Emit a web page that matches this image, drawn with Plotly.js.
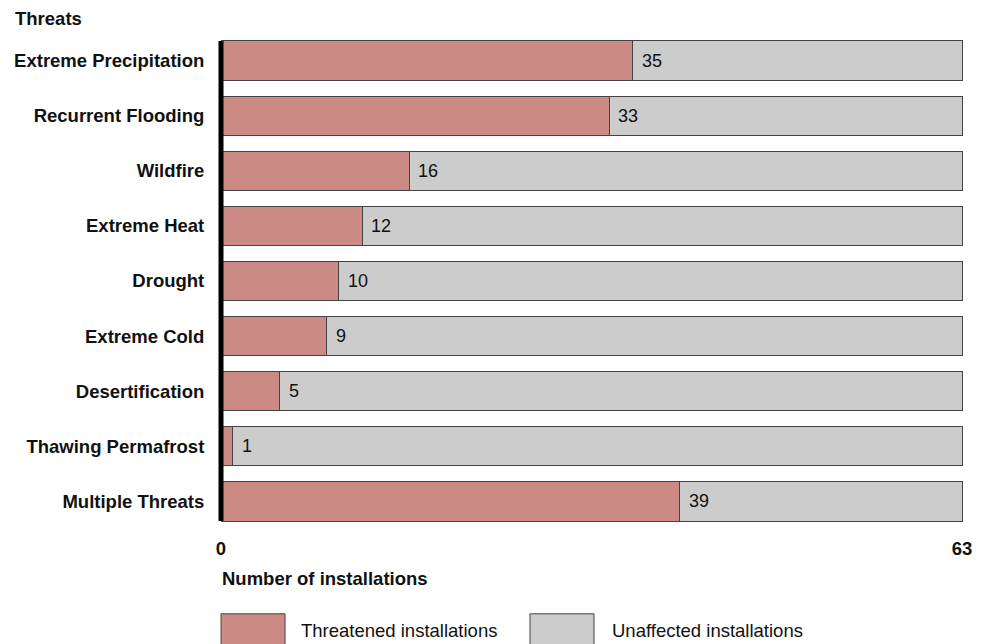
<!DOCTYPE html>
<html>
<head>
<meta charset="utf-8">
<script src="https://cdn.plot.ly/plotly-3.0.1.min.js"></script>
<style>html,body{margin:0;padding:0;background:#fff;}#chart{width:991px;height:644px;}</style>
</head>
<body>
<div id="chart"></div>
<script>
const categories = ["Extreme Precipitation","Recurrent Flooding","Wildfire","Extreme Heat","Drought","Extreme Cold","Desertification","Thawing Permafrost","Multiple Threats"];
const threatened = [35,33,16,12,10,9,5,1,39];
const totalInstallations = 63;
const unaffected = threatened.map(v => totalInstallations - v);
const xTickVals = [0, 63];
const xTickText = ["0", "63"];
const legendNames = ["Threatened installations", "Unaffected installations"];

const FONT = "Liberation Sans, Arial, Helvetica, sans-serif";
const FS = 18.5;
const RED = "#cc8a85";
const GRAY = "#cccccc";
const EDGE = "#444444";

const traces = [
  {type:'bar', orientation:'h', y:categories, x:threatened, name:legendNames[0],
   marker:{color:RED, line:{color:EDGE, width:1}}, hoverinfo:'x+y'},
  {type:'bar', orientation:'h', y:categories, x:unaffected, name:legendNames[1],
   marker:{color:GRAY, line:{color:EDGE, width:1}}, hoverinfo:'x+y'}
];

const annotations = categories.map((c,i)=>({
  x:threatened[i], y:c, xref:'x', yref:'y', text:String(threatened[i]),
  xanchor:'left', yanchor:'middle', xshift:7, showarrow:false,
  font:{family:FONT, size:18, color:'#111'}
}));
annotations.push({x:-0.2803, y:1.03, xref:'paper', yref:'paper', text:'<b>Threats</b>', xanchor:'left', yanchor:'middle', showarrow:false, font:{family:FONT, size:FS, color:'#111'}});
annotations.push({x:-0.001, y:-0.099, xref:'paper', yref:'paper', text:'<b>Number of installations</b>', xanchor:'left', yanchor:'middle', showarrow:false, font:{family:FONT, size:FS, color:'#111'}});
annotations.push({x:0.1045, y:-0.204, xref:'paper', yref:'paper', text:legendNames[0], xanchor:'left', yanchor:'middle', showarrow:false, font:{family:FONT, size:FS, color:'#111'}});
annotations.push({x:0.5236, y:-0.204, xref:'paper', yref:'paper', text:legendNames[1], xanchor:'left', yanchor:'middle', showarrow:false, font:{family:FONT, size:FS, color:'#111'}});

const halfBar = 0.71/2;
const shapes = [
  {type:'rect', xref:'paper', yref:'paper', x0:0, x1:0.0863, y0:-0.171, y1:-0.26, fillcolor:RED, line:{color:EDGE, width:1}},
  {type:'rect', xref:'paper', yref:'paper', x0:0.4164, x1:0.5027, y0:-0.171, y1:-0.26, fillcolor:GRAY, line:{color:EDGE, width:1}},
  {type:'line', xref:'paper', yref:'y', x0:0, x1:0, y0:-halfBar, y1:categories.length-1+halfBar, line:{color:'#000', width:5}, layer:'above'}
];

const layout = {
  width:991, height:644,
  margin:{l:221, r:28, t:33, b:115, pad:0},
  barmode:'stack', bargap:0.29,
  showlegend:false,
  paper_bgcolor:'#fff', plot_bgcolor:'#fff',
  font:{family:FONT, color:'#111'},
  xaxis:{range:[0,63.08], tickvals:xTickVals, ticktext:xTickText, showgrid:false, zeroline:false, showline:false,
         ticks:'outside', ticklen:3, tickcolor:'rgba(0,0,0,0)', tickfont:{family:FONT, size:FS, color:'#111', weight:'bold'}, fixedrange:true},
  yaxis:{autorange:'reversed', showgrid:false, zeroline:false, showline:false, ticks:'outside', ticklen:12, tickcolor:'rgba(0,0,0,0)',
         tickfont:{family:FONT, size:FS, color:'#111', weight:'bold'}, fixedrange:true},
  annotations:annotations,
  shapes:shapes
};

Plotly.newPlot('chart', traces, layout, {displayModeBar:false, staticPlot:true});
</script>
</body>
</html>
